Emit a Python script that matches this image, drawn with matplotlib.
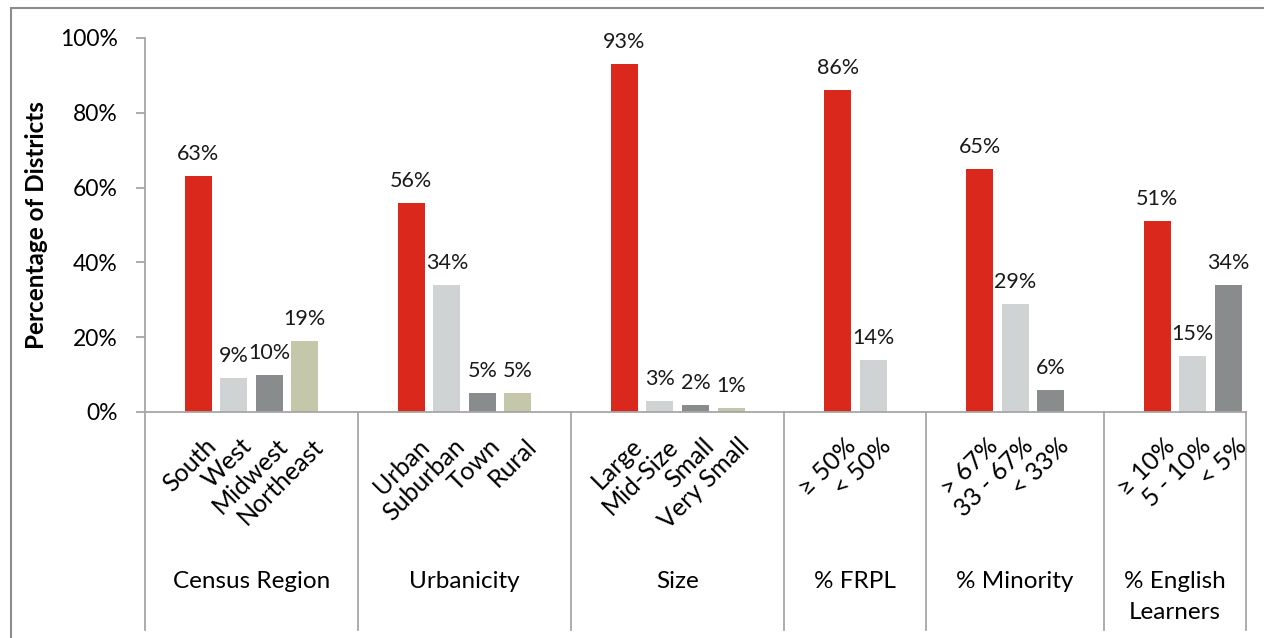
import matplotlib
matplotlib.use("Agg")
import matplotlib.pyplot as plt
import matplotlib.transforms as mtransforms
from matplotlib.patches import Rectangle

plt.rcParams['font.family'] = ['Lato', 'DejaVu Sans']

# data
groups = ["Census Region", "Urbanicity", "Size", "% FRPL", "% Minority", "% English\nLearners"]
categories = [
    ["South", "West", "Midwest", "Northeast"],
    ["Urban", "Suburban", "Town", "Rural"],
    ["Large", "Mid-Size", "Small", "Very Small"],
    ["\u2265 50%", "< 50%"],
    ["> 67%", "33 - 67%", "< 33%"],
    ["\u2265 10%", "5 - 10%", "< 5%"],
]
values = [
    [63, 9, 10, 19],
    [56, 34, 5, 5],
    [93, 3, 2, 1],
    [86, 14],
    [65, 29, 6],
    [51, 15, 34],
]
bar_colors = ["#DA291C", "#CFD3D4", "#898C8C", "#C4C7A9"]

GAP = 3          # distance between last bar of a group and first bar of next
BAR_W = 0.76
AXIS_GRAY = "#A6A6A6"

fig = plt.figure(figsize=(12.64, 6.38), dpi=100)
ax = fig.add_axes([145 / 1264, 1 - 412 / 638, (1246 - 145) / 1264, (412 - 38) / 638])

# x positions for each group
pos = 0
group_pos = []
for cats in categories:
    group_pos.append([pos + i for i in range(len(cats))])
    pos += len(cats) - 1 + GAP

for xs, vals, cats in zip(group_pos, values, categories):
    for i, (x, v, c) in enumerate(zip(xs, vals, cats)):
        ax.bar(x, v, width=BAR_W, color=bar_colors[i], zorder=2)
        ax.annotate(f"{v}%", (x, v), xytext=(0, 11.5), textcoords="offset points",
                    ha="center", va="baseline", fontsize=15.5, color="#1a1a1a")
        ax.annotate(c, (x, 0), xytext=(4.5, -16), textcoords="offset points",
                    rotation=45, ha="right", va="top", rotation_mode="anchor",
                    fontsize=18, color="black", annotation_clip=False)

left = group_pos[0][0] - 1.5
right = group_pos[-1][-1] + 0.5
ax.set_xlim(left, right)
ax.set_ylim(0, 100)

# separators between groups
trans = mtransforms.blended_transform_factory(ax.transData, ax.transAxes)
seps = [left]
for a, b in zip(group_pos[:-1], group_pos[1:]):
    seps.append((a[-1] + b[0]) / 2)
seps.append(right)
for s in seps:
    ax.plot([s, s], [0, -0.583], transform=trans, color=AXIS_GRAY, lw=1.3,
            clip_on=False, zorder=1)

# group labels
for lo, hi, g in zip(seps[:-1], seps[1:], groups):
    ax.text((lo + hi) / 2, -0.424, g, transform=trans, ha="center", va="top",
            fontsize=17.5, linespacing=1.6, color="black")

ax.set_xticks([])
ax.set_yticks(range(0, 101, 20))
ax.set_yticklabels([f"{t}%" for t in range(0, 101, 20)], fontsize=16.5)
ax.tick_params(axis="y", length=6.5, width=1.3, color=AXIS_GRAY, pad=13)
for side in ["top", "right"]:
    ax.spines[side].set_visible(False)
for side in ["left", "bottom"]:
    ax.spines[side].set_color(AXIS_GRAY)
    ax.spines[side].set_linewidth(1.3)

ax.set_ylabel("Percentage of Districts", fontsize=17.5, fontweight="bold")
ax.yaxis.set_label_coords(-0.088, 0.5)

# outer border
fig.patches.append(Rectangle((11 / 1264, -0.1), 1.2, 0.1 + (638 - 8) / 638,
                             transform=fig.transFigure, fill=False,
                             edgecolor="#8C8C8C", lw=1.5, figure=fig))

fig.savefig("out.png", dpi=100)
